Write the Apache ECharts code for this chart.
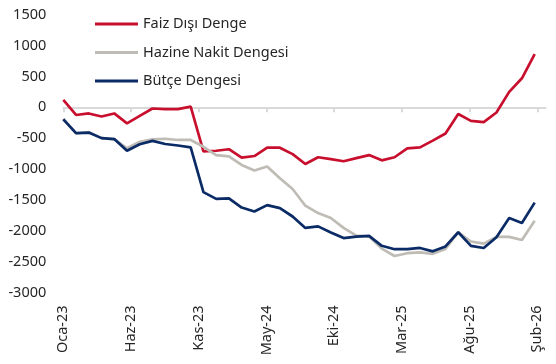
<!DOCTYPE html>
<html>
<head>
<meta charset="utf-8">
<script src="https://cdn.jsdelivr.net/npm/echarts@6/dist/echarts.min.js"></script>
<style>
html,body{margin:0;padding:0;background:#fff;}
#chart{width:556px;height:364px;}
</style>
</head>
<body>
<div id="chart"></div>
<script>
var categories = [
  'Oca-23','Şub-23','Mar-23','Nis-23','May-23','Haz-23','Tem-23','Ağu-23','Eyl-23','Eki-23','Kas-23','Ara-23',
  'Oca-24','Şub-24','Mar-24','Nis-24','May-24','Haz-24','Tem-24','Ağu-24','Eyl-24','Eki-24','Kas-24','Ara-24',
  'Oca-25','Şub-25','Mar-25','Nis-25','May-25','Haz-25','Tem-25','Ağu-25','Eyl-25','Eki-25','Kas-25','Ara-25',
  'Oca-26','Şub-26'
];
var faizDisiDenge = [120,-125,-100,-150,-100,-260,-140,-20,-30,-30,10,-715,-705,-680,-815,-790,-655,-655,-760,-920,-810,-840,-875,-825,-775,-860,-810,-665,-650,-540,-425,-110,-220,-240,-85,250,470,860];
var hazineNakitDengesi = [-185,-425,-405,-500,-515,-665,-560,-520,-510,-530,-530,-640,-775,-795,-935,-1025,-960,-1150,-1325,-1595,-1715,-1795,-1955,-2080,-2095,-2290,-2410,-2365,-2350,-2375,-2295,-2025,-2175,-2210,-2100,-2100,-2150,-1840];
var butceDengesi = [-195,-420,-410,-500,-515,-705,-600,-545,-595,-620,-650,-1375,-1485,-1475,-1625,-1690,-1585,-1635,-1770,-1955,-1930,-2030,-2120,-2095,-2085,-2245,-2300,-2300,-2280,-2335,-2255,-2025,-2245,-2280,-2105,-1795,-1875,-1545];
var tickLabels = ['Oca-23','Haz-23','Kas-23','May-24','Eki-24','Mar-25','Ağu-25','Şub-26'];
var seriesNames = ['Faiz Dışı Denge','Hazine Nakit Dengesi','Bütçe Dengesi'];
var colors = ['#C8102E','#BFBBB5','#0B2B66'];

function pairs(arr){ return arr.map(function(v,i){ return [i, v]; }); }
var tickIdx = tickLabels.map(function(_,k){ return k; });
var FONT = 'Noto Sans';
var dataMax = 37.85;
var labMax = 7.12;

var chart = echarts.init(document.getElementById('chart'), null, {renderer:'canvas'});
chart.setOption({
  animation:false,
  backgroundColor:'#fff',
  grid:{left:63.3, right:10.5, top:14.7, bottom:71.6, containLabel:false},
  legend:{
    orient:'vertical', left:95, top:16, padding:0,
    icon:'rect', itemWidth:43, itemHeight:3, itemTextGap:2, itemGap:12.5,
    textStyle:{fontFamily:FONT, fontSize:14.5, color:'#262626', lineHeight:16},
    data:seriesNames
  },
  xAxis:[
    {type:'value', min:0, max:dataMax, show:false, axisLine:{onZero:false}, splitLine:{show:false}},
    {type:'value', min:0, max:labMax, position:'bottom',
     axisLine:{show:true, onZero:true, lineStyle:{color:'#D9D9D9', width:2}},
     axisTick:{show:true, length:5, lineStyle:{color:'#D9D9D9', width:2}, customValues:tickIdx},
     axisLabel:{show:false}, splitLine:{show:false}},
    {type:'value', min:0, max:labMax, position:'bottom',
     axisLine:{show:false, onZero:false}, axisTick:{show:false}, splitLine:{show:false},
     axisLabel:{show:true, rotate:90, margin:13, fontFamily:FONT, fontSize:14.5, color:'#262626',
       customValues:tickIdx,
       formatter:function(v){ var k=Math.round(v); return tickLabels[k] || ''; }}}
  ],
  yAxis:{
    type:'value', min:-3000, max:1500, interval:500,
    axisLine:{show:false}, axisTick:{show:false}, splitLine:{show:false},
    axisLabel:{fontFamily:FONT, fontSize:14.5, color:'#262626', margin:17,
      formatter:function(v){ return String(v); }}
  },
  series:[
    {name:seriesNames[0], type:'line', xAxisIndex:0, data:pairs(faizDisiDenge), showSymbol:false, symbol:'none',
     lineStyle:{color:colors[0], width:2.7}, itemStyle:{color:colors[0]}},
    {name:seriesNames[1], type:'line', xAxisIndex:0, data:pairs(hazineNakitDengesi), showSymbol:false, symbol:'none',
     lineStyle:{color:colors[1], width:2.7}, itemStyle:{color:colors[1]}},
    {name:seriesNames[2], type:'line', xAxisIndex:0, data:pairs(butceDengesi), showSymbol:false, symbol:'none',
     lineStyle:{color:colors[2], width:2.7}, itemStyle:{color:colors[2]}}
  ]
});
</script>
</body>
</html>
